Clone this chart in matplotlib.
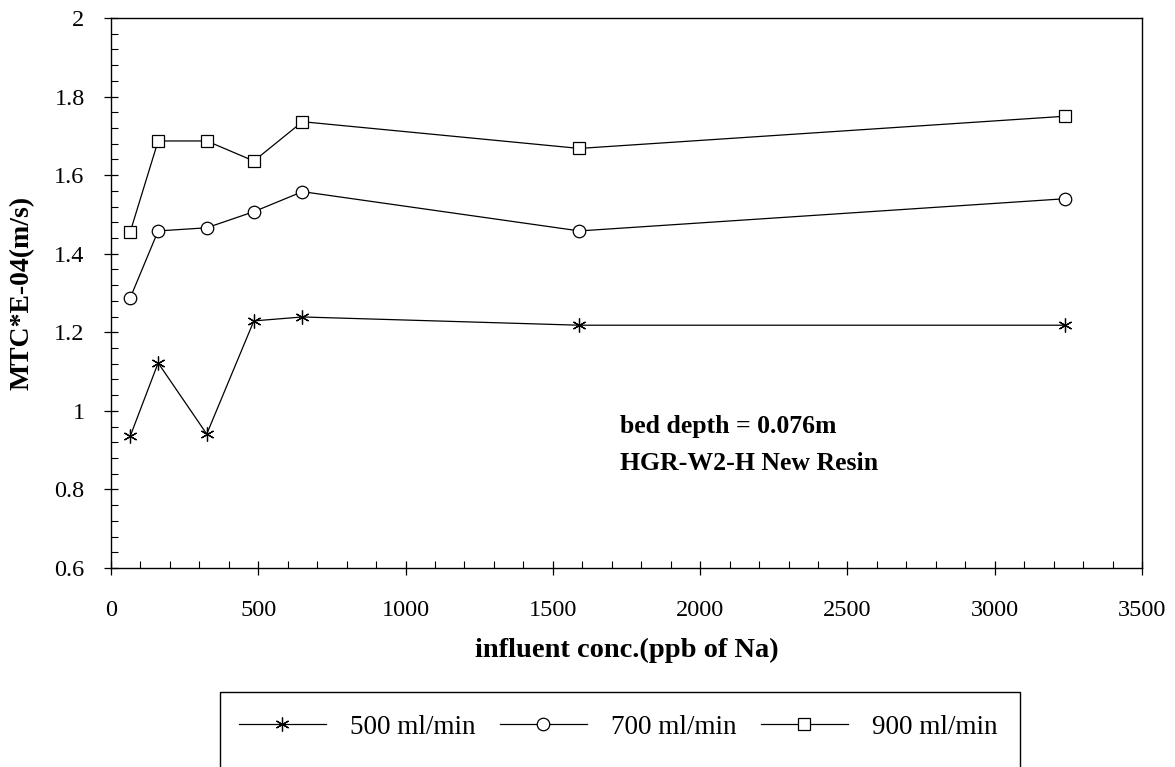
import matplotlib.pyplot as plt
from matplotlib.patches import Rectangle
from matplotlib.ticker import MultipleLocator

# influent concentration (ppb of Na)
conc = [65, 160, 325, 485, 650, 1590, 3240]

mtc_500 = [0.935, 1.122, 0.941, 1.229, 1.239, 1.218, 1.218]
mtc_700 = [1.287, 1.458, 1.466, 1.507, 1.558, 1.458, 1.540]
mtc_900 = [1.455, 1.687, 1.687, 1.636, 1.736, 1.668, 1.750]

labels = ['500 ml/min', '700 ml/min', '900 ml/min']

plt.rcParams['font.family'] = ['Liberation Serif', 'DejaVu Serif']

W, H = 1175, 767
fig = plt.figure(figsize=(W / 100, H / 100), dpi=100)
ax = fig.add_axes([111 / W, 1 - 568 / H, (1142 - 111) / W, (568 - 18) / H])

kw = dict(color='black', linewidth=0.9, markerfacecolor='white', markeredgecolor='black')
l1, = ax.plot(conc, mtc_500, marker=(6, 2, 0), markersize=10, markeredgewidth=0.9, **kw)
l2, = ax.plot(conc, mtc_700, marker='o', markersize=9, markeredgewidth=0.9, **kw)
l3, = ax.plot(conc, mtc_900, marker='s', markersize=9, markeredgewidth=0.9, **kw)

ax.set_xlim(0, 3500)
ax.set_ylim(0.6, 2.0)
ax.xaxis.set_major_locator(MultipleLocator(500))
ax.xaxis.set_minor_locator(MultipleLocator(100))
ax.yaxis.set_major_locator(MultipleLocator(0.2))
ax.yaxis.set_minor_locator(MultipleLocator(0.04))
ax.yaxis.set_major_formatter(plt.FuncFormatter(lambda v, p: f'{v:g}'))

ax.tick_params(which='major', direction='inout', length=10, width=0.9, labelsize=17.5)
ax.tick_params(axis='x', which='major', pad=18)
ax.tick_params(axis='y', which='major', pad=14)
ax.tick_params(which='minor', direction='in', length=5, width=0.8)
ax.tick_params(top=False, right=False, which='both')
for s in ax.spines.values():
    s.set_linewidth(1.0)

ax.set_xlabel('influent conc.(ppb of Na)', fontsize=20.5, fontweight='bold', labelpad=12)
ax.set_ylabel('MTC*E-04(m/s)', fontsize=20, fontweight='bold', labelpad=14)

ax.text(1728, 0.959, 'bed depth = 0.076m', fontsize=18.5, fontweight='bold', va='center')
ax.text(1728, 0.865, 'HGR-W2-H New Resin', fontsize=18.5, fontweight='bold', va='center')

# legend box (runs off the bottom edge as in the scan)
fig.patches.append(Rectangle((220 / W, -0.05), (1020 - 220) / W, 1 - 692 / H + 0.05,
                             transform=fig.transFigure, fill=False, edgecolor='black',
                             linewidth=1.0))
fig.legend([l1, l2, l3], labels, loc='center left', ncol=3, frameon=False,
           bbox_to_anchor=(239 / W, 1 - 727 / H), fontsize=19.5, handlelength=3.2,
           handletextpad=0.9, columnspacing=0.9, borderpad=0, borderaxespad=0)

fig.savefig('out.png', dpi=100, facecolor='white')
